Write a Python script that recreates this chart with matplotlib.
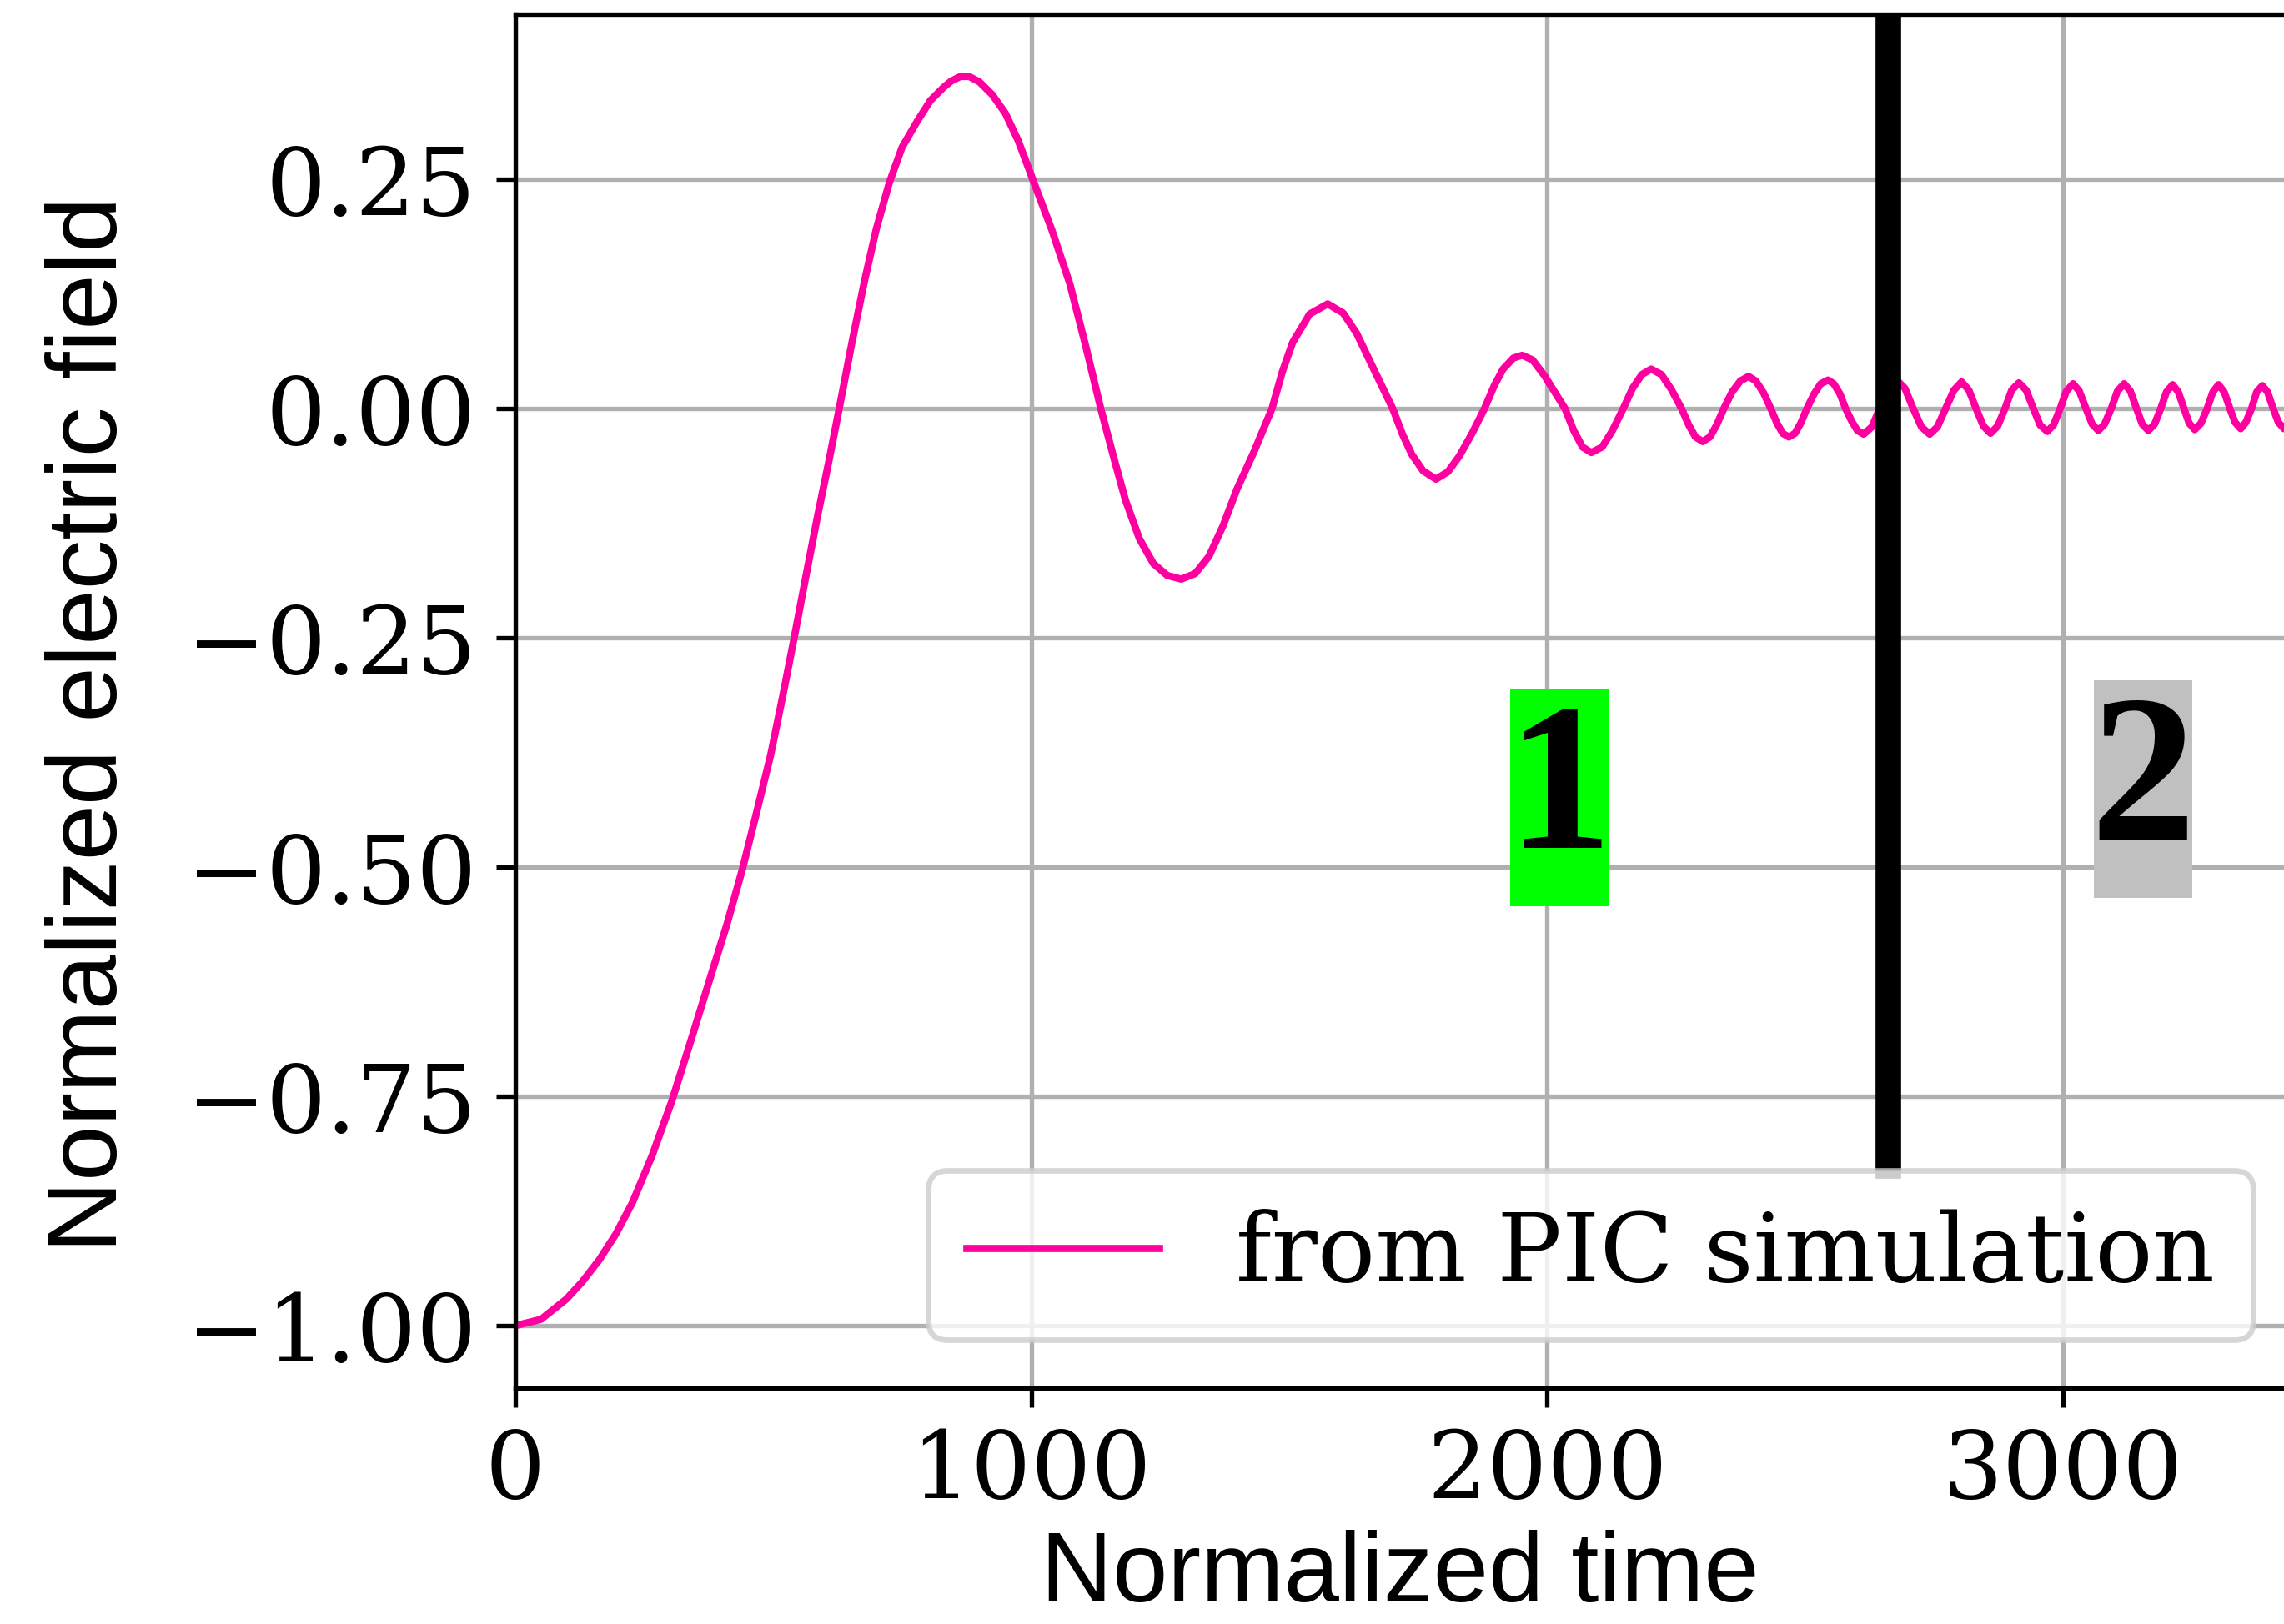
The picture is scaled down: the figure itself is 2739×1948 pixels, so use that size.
import matplotlib
matplotlib.use("Agg")
import matplotlib.pyplot as plt
from matplotlib.patches import Rectangle

plt.rcParams["font.family"] = "DejaVu Serif"

# values
time = [0, 50, 99, 130, 163, 195, 227, 265, 303, 340, 380, 410, 440, 468, 495, 518, 540,
        562, 585, 607, 628, 652, 677, 700, 725, 750, 779, 805, 830, 845, 863, 880,
        900, 925, 950, 975, 1003, 1040, 1075, 1105, 1135, 1160, 1183, 1210, 1237, 1264, 1291, 1318,
        1345, 1372, 1399, 1433, 1467, 1487, 1507, 1540, 1575, 1605, 1631, 1665, 1701,
        1720, 1738, 1760, 1785, 1808, 1830, 1855, 1879, 1898, 1915, 1935, 1952, 1972, 1995, 2015, 2035,
        2052, 2069, 2086, 2107, 2127, 2148, 2166, 2184, 2202, 2222, 2241, 2261,
        2275, 2288, 2302, 2316, 2329, 2343, 2359, 2375, 2391, 2405, 2420, 2434,
        2446, 2457, 2469, 2481, 2492, 2504, 2518, 2531, 2545, 2556, 2568, 2579,
        2591, 2602, 2614, 2630, 2645, 2661, 2678, 2694, 2710, 2726, 2742,
        2757, 2773, 2789, 2804, 2818, 2832, 2846, 2860, 2874, 2888, 2901, 2915, 2929, 2943,
        2956, 2970, 2982, 2995, 3007, 3020, 3032, 3045, 3057, 3069, 3081, 3094,
        3106, 3119, 3131, 3143, 3154, 3166, 3178, 3190, 3201, 3213, 3224, 3235,
        3245, 3256, 3268, 3280, 3291, 3302, 3313, 3324, 3334, 3345, 3355, 3366,
        3376, 3387, 3397, 3408, 3418, 3429, 3439, 3450, 3463]
field = [-1.0, -0.993, -0.971, -0.952, -0.928, -0.900, -0.866, -0.815, -0.756, -0.690, -0.617, -0.563, -0.503, -0.44, -0.378, -0.315, -0.252,
         -0.187, -0.12, -0.06, 0.0, 0.07, 0.139, 0.196, 0.246, 0.285, 0.313, 0.336, 0.350, 0.357, 0.362, 0.362,
         0.356, 0.342, 0.322, 0.292, 0.25, 0.195, 0.136, 0.07, 0.0, -0.053, -0.100, -0.142, -0.169, -0.182, -0.186, -0.180,
         -0.161, -0.128, -0.088, -0.046, 0.0, 0.04, 0.072, 0.103, 0.114, 0.104, 0.082, 0.042, 0.0,
         -0.028, -0.050, -0.068, -0.077, -0.069, -0.052, -0.027, 0.0, 0.025, 0.043, 0.055, 0.058, 0.053, 0.036, 0.018, 0.0,
         -0.024, -0.042, -0.048, -0.042, -0.024, 0.0, 0.022, 0.037, 0.043, 0.037, 0.021, 0.0,
         -0.018, -0.031, -0.036, -0.031, -0.018, 0.0, 0.018, 0.030, 0.035, 0.030, 0.017, 0.0,
         -0.016, -0.027, -0.031, -0.027, -0.016, 0.0, 0.016, 0.027, 0.031, 0.027, 0.016, 0.0,
         -0.014, -0.024, -0.028, -0.020, 0.0, 0.022, 0.031, 0.022, 0.0, -0.020, -0.028,
         -0.020, 0.0, 0.020, 0.029, 0.020, 0.0, -0.019, -0.027, -0.019, 0.0, 0.020, 0.028, 0.020, 0.0,
         -0.018, -0.025, -0.018, 0.0, 0.019, 0.027, 0.019, 0.0, -0.017, -0.024, -0.017, 0.0,
         0.019, 0.027, 0.019, 0.0, -0.017, -0.024, -0.017, 0.0, 0.018, 0.026, 0.018, 0.0,
         -0.016, -0.023, -0.016, 0.0, 0.018, 0.026, 0.018, 0.0, -0.015, -0.022, -0.015, 0.0,
         0.018, 0.025, 0.018, 0.0, -0.015, -0.022, -0.015, 0.0, 0.02]

x_ticks = [0, 1000, 2000, 3000]
y_ticks = [-1.0, -0.75, -0.5, -0.25, 0.0, 0.25]
split_time = 2661
regions = [("1", 2024, -0.424, "#00ff00"), ("2", 3156, -0.415, "#c0c0c0")]

fig = plt.figure(figsize=(2739 / 480, 1948 / 480), dpi=480)
ax = fig.add_axes([0.2256, 0.1453, 1.0077 - 0.2256, 0.9913 - 0.1453])

ax.plot(time, field, color="#ff00a0", lw=1.3, label="from PIC simulation")
ax.axvline(split_time, ymin=0.162, ymax=1, color="black", lw=4.6)

# region labels: coloured box + bold serif digit
for txt, tx, ty, bg in regions:
    ax.add_patch(Rectangle((tx - 95, ty - 0.1185), 190, 0.237, facecolor=bg,
                           edgecolor="none", zorder=4))
    ax.text(tx, ty, txt, family="Liberation Serif", fontweight="bold", fontsize=38,
            ha="center", va="center", zorder=5)

ax.set_xlim(0, 3463)
ax.set_ylim(-1.068, 0.430)
ax.set_xticks(x_ticks)
ax.set_yticks(y_ticks)
ax.tick_params(labelsize=17)
ax.grid(True)
ax.legend(loc="lower right", fontsize=17.3)

fig.text(0.040, 0.554, "Normalized electric field", rotation=90, ha="center", va="center",
         family="Liberation Sans", fontsize=17.9)
fig.text(0.613, 0.0008, "Normalized time", ha="center", va="bottom",
         family="Liberation Sans", fontsize=17.9)

fig.savefig("out.png", dpi=480)
